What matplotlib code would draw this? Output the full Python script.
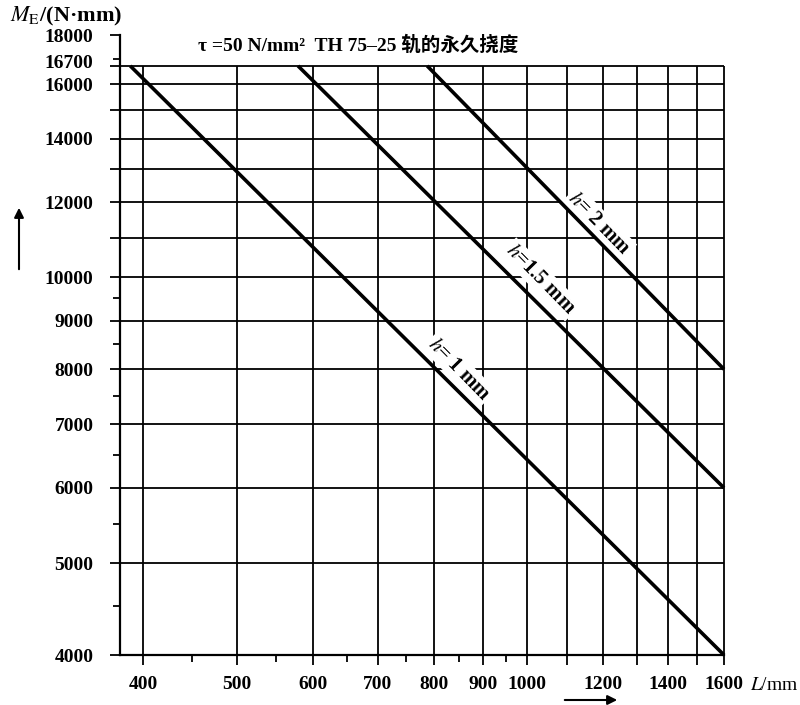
import matplotlib
matplotlib.use("Agg")
import matplotlib.pyplot as plt
from matplotlib.ticker import FixedLocator, FixedFormatter, NullFormatter
from matplotlib.transforms import ScaledTranslation

plt.rcParams['mathtext.fontset'] = 'stix'
plt.rcParams['font.family'] = ['Liberation Serif', 'Noto Sans CJK SC']

# ---- data ----
h_labels = ["$h$= 1 mm", "$h$=1.5 mm", "$h$= 2 mm"]
L_start = [388, 579, 788]          # L at which each curve meets M = 16700
M_top = 16700
L_end = [1600, 1600, 1600]
M_end = [4000, 6000, 8000]
label_pos_L = [850, 1033, 1188]
label_pos_M = [8000, 9950, 11400]

x_grid = [400, 500, 600, 700, 800, 900, 1000, 1100, 1200, 1300, 1400, 1500, 1600]
x_labels = ["400", "500", "600", "700", "800", "900", "1000", "", "1200", "", "1400", "", "1600"]
x_minor = [450, 550, 650, 750, 850, 950]

y_grid = [4000, 5000, 6000, 7000, 8000, 9000, 10000, 11000, 12000, 13000, 14000, 15000, 16000, 16700, 18000]
y_labels = ["4000", "5000", "6000", "7000", "8000", "9000", "10000", "", "12000", "", "14000", "", "16000", "16700", "18000"]
y_minor = [4500, 5500, 6500, 7500, 8500, 9500, 17000]

xmin, xmax = 378.6, 1600
ymin, ymax = 4000, 18000

fig = plt.figure(figsize=(8, 7.05), dpi=100)
ax = fig.add_axes([120/800, 1-655/705, (724-120)/800, (655-35)/705])
ax.set_xscale('log')
ax.set_yscale('log')
ax.set_xlim(xmin, xmax)
ax.set_ylim(ymin, ymax)

for s in ['top', 'right']:
    ax.spines[s].set_visible(False)
ax.spines['left'].set_linewidth(1.6)
ax.spines['bottom'].set_linewidth(1.6)

# grid
gy = [v for v in y_grid if v not in (4000, 18000)]
ax.hlines(gy, xmin, xmax, colors='black', lw=1.3, zorder=1, clip_on=False)
ax.vlines(x_grid, ymin, M_top, colors='black', lw=1.3, zorder=1, clip_on=False)

# main lines
for i in range(3):
    ax.plot([L_start[i], L_end[i]], [M_top, M_end[i]], color='black', lw=2.6,
            zorder=3, solid_capstyle='butt', clip_on=False)
    ax.text(label_pos_L[i], label_pos_M[i], h_labels[i], rotation=-45.5,
            ha='center', va='center', fontsize=15, fontweight='bold', zorder=2,
            rotation_mode='anchor',
            bbox=dict(facecolor='white', edgecolor='none', pad=1.5))

# ticks
ax.xaxis.set_major_locator(FixedLocator(x_grid))
ax.xaxis.set_major_formatter(FixedFormatter(x_labels))
ax.xaxis.set_minor_locator(FixedLocator(x_minor))
ax.xaxis.set_minor_formatter(NullFormatter())
ax.yaxis.set_major_locator(FixedLocator(y_grid))
ax.yaxis.set_major_formatter(FixedFormatter(y_labels))
ax.yaxis.set_minor_locator(FixedLocator(y_minor))
ax.yaxis.set_minor_formatter(NullFormatter())
ax.tick_params(axis='both', which='major', direction='out', length=7, width=1.3,
               labelsize=14, pad=8)
ax.tick_params(axis='both', which='minor', direction='out', length=5, width=1.3)
ax.tick_params(axis='y', which='major', pad=12)
for lab in ax.get_xticklabels() + ax.get_yticklabels():
    lab.set_fontweight('bold')

# nudge crowded labels apart (16700 up, 16000 down a touch)
fig.canvas.draw()
for t, lab in zip(ax.yaxis.get_major_ticks(), y_labels):
    if lab == "16700":
        t.label1.set_transform(t.label1.get_transform() + ScaledTranslation(0, 4/100, fig.dpi_scale_trans))
    if lab == "16000":
        t.label1.set_transform(t.label1.get_transform() + ScaledTranslation(0, -1/100, fig.dpi_scale_trans))

# texts
fig.text(198/800, 1-45/705, "τ =50 N/mm²  TH 75–25 轨的永久挠度", fontsize=14,
         fontweight='bold', ha='left', va='center')
fig.text(10/800, 1-16/705, r"$M_{\rm E}$/(N·mm)", fontsize=16, fontweight='bold',
         ha='left', va='center')
fig.text(750/800, 1-685/705, r"$L$/mm", fontsize=14, ha='left', va='center')

# arrows
fig.add_artist(matplotlib.patches.FancyArrowPatch(
    (19/800, 1-272/705), (19/800, 1-205/705), transform=fig.transFigure,
    arrowstyle='-|>', mutation_scale=14, lw=1.5, color='black'))
fig.add_artist(matplotlib.patches.FancyArrowPatch(
    (562/800, 1-700/705), (620/800, 1-700/705), transform=fig.transFigure,
    arrowstyle='-|>', mutation_scale=14, lw=1.5, color='black'))

fig.savefig("out.png", dpi=100, facecolor='white')
